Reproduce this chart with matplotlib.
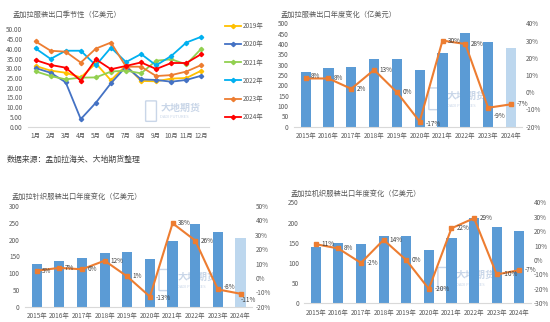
import matplotlib
matplotlib.use("Agg")
import matplotlib.pyplot as plt
from matplotlib.patches import FancyBboxPatch
from matplotlib.ticker import FuncFormatter

plt.rcParams["font.family"] = ["Noto Sans CJK SC", "DejaVu Sans"]
plt.rcParams["axes.unicode_minus"] = False

# ---- data ----
months = ["1月", "2月", "3月", "4月", "5月", "6月", "7月", "8月", "9月", "10月", "11月", "12月"]
season_years = ["2019年", "2020年", "2021年", "2022年", "2023年", "2024年"]
s2019 = [31.2, 28.8, 27.7, 25.3, 32.5, 23.8, 31.5, 23.5, 23.3, 24.7, 25.0, 28.8]
s2020 = [30.1, 27.7, 22.8, 3.9, 12.3, 22.3, 30.8, 24.3, 24.0, 23.1, 24.0, 26.2]
s2021 = [28.4, 26.0, 24.3, 25.2, 25.3, 28.3, 28.8, 27.4, 33.9, 34.6, 32.0, 40.1]
s2022 = [40.2, 34.8, 39.0, 39.0, 31.5, 40.6, 33.2, 37.3, 31.5, 36.3, 43.2, 46.2]
s2023 = [43.8, 39.0, 38.5, 32.9, 40.1, 43.2, 30.8, 30.8, 26.0, 26.5, 28.3, 31.7]
s2024 = [34.2, 31.7, 30.3, 23.6, 34.6, 29.5, 31.2, 33.0, 29.6, 32.7, 32.7, 37.3]

years = ["2015年", "2016年", "2017年", "2018年", "2019年", "2020年", "2021年", "2022年", "2023年", "2024年"]
total_exports = [266, 282, 289, 327, 327, 273, 355, 452, 410, 382]
total_growth = [8, 8, 2, 13, 0, -17, 30, 28, -9, -7]
knit_exports = [126, 137, 144, 161, 163, 141, 195, 245, 224, 204]
knit_growth = [5, 7, 6, 12, 1, -13, 38, 26, -8, -11]
woven_exports = [139, 150, 146, 167, 166, 132, 161, 210, 188, 179]
woven_growth = [11, 8, -2, 14, 0, -20, 22, 29, -10, -7]

# ---- styles ----
season_colors = ["#FFC000", "#4472C4", "#92D050", "#00B0F0", "#ED7D31", "#FF0000"]
bar_color = "#5B9BD5"
light_bar = "#BDD7EE"
line_color = "#ED7D31"
tick_color = "#595959"
wm_color = "#C9D6E8"
fs = 4.6

fig = plt.figure(figsize=(5.5, 3.22), dpi=100)


def style_axes(ax):
    for side in ["top", "left", "right"]:
        ax.spines[side].set_visible(False)
    ax.spines["bottom"].set_color("#D9D9D9")
    ax.spines["bottom"].set_linewidth(0.8)
    ax.tick_params(length=0, labelsize=fs, colors=tick_color, pad=4)


def watermark(ax, x, y):
    # small logo box + company name, faint like the original
    ax.add_patch(FancyBboxPatch((x - 0.075, y - 0.12), 0.05, 0.2, transform=ax.transAxes,
                                boxstyle="round,pad=0.005", fill=False,
                                edgecolor=wm_color, linewidth=1.0, zorder=1))
    ax.text(x, y + 0.01, "大地期货", transform=ax.transAxes, fontsize=7.2, color=wm_color,
            ha="left", va="center", fontweight="bold", zorder=1)
    ax.text(x, y - 0.085, "DADI FUTURES", transform=ax.transAxes, fontsize=3.0,
            color=wm_color, ha="left", va="center", zorder=1)


# seasonal chart
ax1 = fig.add_axes([0.0509, 0.6065, 0.329, 0.3025])
style_axes(ax1)
x = list(range(1, 13))
watermark(ax1, 0.73, 0.18)
for label, vals, c in zip(season_years, [s2019, s2020, s2021, s2022, s2023, s2024], season_colors):
    ax1.plot(x, vals, color=c, linewidth=1.3, marker="D", markersize=2.2, label=label, zorder=3)
ax1.set_xlim(0.5, 12.5)
ax1.set_ylim(0, 50)
ax1.set_yticks(range(0, 51, 5))
ax1.yaxis.set_major_formatter(FuncFormatter(lambda v, p: f"{v:.2f}"))
ax1.set_xticks(x)
ax1.set_xticklabels(months)
ax1.legend(loc="upper left", bbox_to_anchor=(1.055, 1.13), frameon=False, fontsize=fs,
           labelspacing=1.58, handlelength=2.6, handletextpad=0.3,
           labelcolor=tick_color)
fig.text(67 / 550, 1 - 15 / 322, "孟加拉服装出口季节性（亿美元）", fontsize=5.2,
         color="#595959", ha="center", va="center")


def bar_line(rect, exports, growth, bar_colors, ylim, yticks, rlim, rticks, title, title_xy,
             wm_xy, label_off):
    ax = fig.add_axes(rect)
    style_axes(ax)
    pos = list(range(len(years)))
    watermark(ax, *wm_xy)
    ax.bar(pos, exports, width=0.45, color=bar_colors, zorder=2)
    ax.set_xlim(-0.5, len(years) - 0.5)
    ax.set_ylim(*ylim)
    ax.set_yticks(yticks)
    ax.set_xticks(pos)
    ax.set_xticklabels(years)
    axr = ax.twinx()
    for side in ["top", "left", "right", "bottom"]:
        axr.spines[side].set_visible(False)
    axr.tick_params(length=0, labelsize=fs, colors=tick_color, pad=2.5)
    axr.plot(pos, growth, color=line_color, linewidth=1.5, marker="s", markersize=2.8, zorder=3)
    axr.set_ylim(*rlim)
    axr.set_yticks(rticks)
    axr.yaxis.set_major_formatter(FuncFormatter(lambda v, p: f"{v:.0f}%"))
    for px, g, off in zip(pos, growth, label_off):
        axr.annotate(f"{g}%", (px, g), xytext=off, textcoords="offset points",
                     fontsize=fs, color="#404040", ha="left", va="center")
    fig.text(title_xy[0] / 550, 1 - title_xy[1] / 322, title, fontsize=5.2,
             color="#595959", ha="center", va="center")
    return ax, axr


right = (4, 0)
bar_line([0.535, 0.6065, 0.4147, 0.321], total_exports, total_growth,
         [bar_color] * 9 + [light_bar], (0, 500), range(0, 501, 50),
         (-20, 40), range(-20, 41, 10), "孟加拉服装出口年度变化（亿美元）", (339, 15), (0.67, 0.29),
         [(4, 2), right, right, right, right, (4, -2), right, right, (4, -6), right])

bar_line([0.046, 0.0475, 0.412, 0.3127], knit_exports, knit_growth,
         [bar_color] * 9 + [light_bar], (0, 300), range(0, 301, 50),
         (-20, 50), range(-20, 51, 10), "孟加拉针织服装出口年度变化（亿美元）", (77, 197), (0.67, 0.285),
         [right, right, right, right, right, (4, -1), right, right, (4, 2), (0, -4.6)])

bar_line([0.5535, 0.058, 0.4113, 0.3137], woven_exports, woven_growth,
         [bar_color] * 10, (0, 250), range(0, 251, 50),
         (-30, 40), range(-30, 41, 10), "孟加拉机织服装出口年度变化（亿美元）", (356, 194), (0.67, 0.27),
         [right] * 10)

fig.text(7 / 550, 1 - 159 / 322, "数据来源：孟加拉海关、大地期货整理", fontsize=5.7,
         color="#404040", ha="left", va="center")

fig.savefig("out.png", dpi=100)
